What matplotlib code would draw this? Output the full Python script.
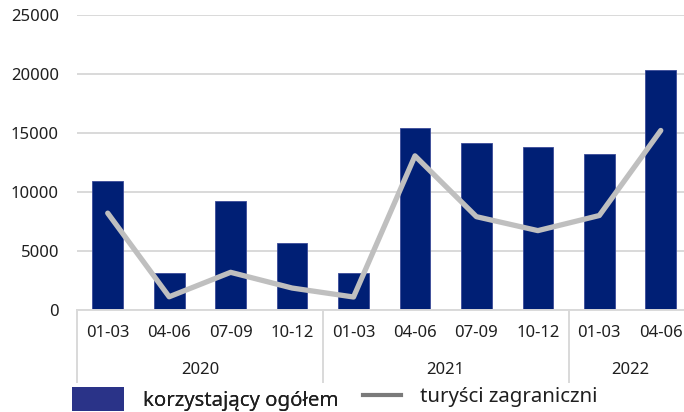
import matplotlib
matplotlib.use("Agg")
import matplotlib.pyplot as plt
import matplotlib.transforms as mtransforms
from matplotlib.patches import Patch
from matplotlib.lines import Line2D

plt.rcParams['font.family'] = ['Noto Sans', 'DejaVu Sans']

quarters = ["01-03", "04-06", "07-09", "10-12",
            "01-03", "04-06", "07-09", "10-12",
            "01-03", "04-06"]
years = ["2020", "2021", "2022"]
year_sizes = [4, 4, 2]
korzystajacy = [10900, 3130, 9230, 5680, 3100, 15450, 14130, 13820, 13220, 20320]
turysci = [8200, 1120, 3190, 1860, 1100, 13050, 7900, 6720, 8000, 15200]
yticks = [0, 5000, 10000, 15000, 20000, 25000]

BAR_COLOR = "#001f75"
LINE_COLOR = "#bfbfbf"
GRID_COLOR = "#d9d9d9"
TEXT_COLOR = "#1f1f1f"

W, H = 684, 412
fig = plt.figure(figsize=(W / 100, H / 100), dpi=100)
left, right, top, bottom = 77, 691.5, 14.7, 310
ax = fig.add_axes([left / W, 1 - bottom / H, (right - left) / W, (bottom - top) / H])

x = list(range(len(quarters)))
ax.bar(x, korzystajacy, width=0.5, color=BAR_COLOR, edgecolor="#3a4a98", linewidth=0.6, zorder=2)
ax.plot(x, turysci, color=LINE_COLOR, linewidth=3.8, solid_joinstyle="round",
        solid_capstyle="round", zorder=3)

ax.set_xlim(-0.5, len(quarters) - 0.5)
ax.set_ylim(0, 25000)
ax.set_yticks(yticks)
ax.set_yticklabels([str(v) for v in yticks], fontsize=12, color=TEXT_COLOR)
ax.tick_params(axis="y", length=0, pad=13)
ax.set_xticks([])
ax.grid(axis="y", color=GRID_COLOR, linewidth=1.4, zorder=0)
ax.set_axisbelow(True)
for s in ["top", "right", "left"]:
    ax.spines[s].set_visible(False)
ax.spines["bottom"].set_color(GRID_COLOR)
ax.spines["bottom"].set_linewidth(1.4)

trans = mtransforms.blended_transform_factory(ax.transData, ax.transAxes)
for i, q in enumerate(quarters):
    ax.text(i, -0.0795, q, transform=trans, ha="center", va="center",
            fontsize=12, color=TEXT_COLOR)

start = 0
bounds = [-0.5]
for yname, n in zip(years, year_sizes):
    center = start + (n - 1) / 2
    ax.text(center, -0.202, yname, transform=trans, ha="center", va="center",
            fontsize=12, color=TEXT_COLOR)
    start += n
    bounds.append(start - 0.5)
for b in bounds[:-1]:
    ax.plot([b, b], [0, -0.245], transform=trans, color=GRID_COLOR,
            linewidth=1.4, clip_on=False)

leg1 = fig.legend(handles=[Patch(facecolor="#2a3388", edgecolor="none")],
                  labels=["korzystający ogółem"], loc="center left",
                  bbox_to_anchor=(71.5 / W, 1 - 399 / H), frameon=False,
                  fontsize=14.7, handlelength=2.55, handleheight=1.45,
                  handletextpad=0.95, borderpad=0, borderaxespad=0,
                  labelcolor=TEXT_COLOR)
fig.add_artist(leg1)
fig.legend(handles=[Line2D([], [], color="#7a7a7a", linewidth=3)],
           labels=["turyści zagraniczni"], loc="center left",
           bbox_to_anchor=(363 / W, 1 - 397 / H), frameon=False,
           fontsize=14.7, handlelength=1.86, handletextpad=0.95,
           borderpad=0, borderaxespad=0, labelcolor=TEXT_COLOR)

fig.savefig("out.png", dpi=100)
